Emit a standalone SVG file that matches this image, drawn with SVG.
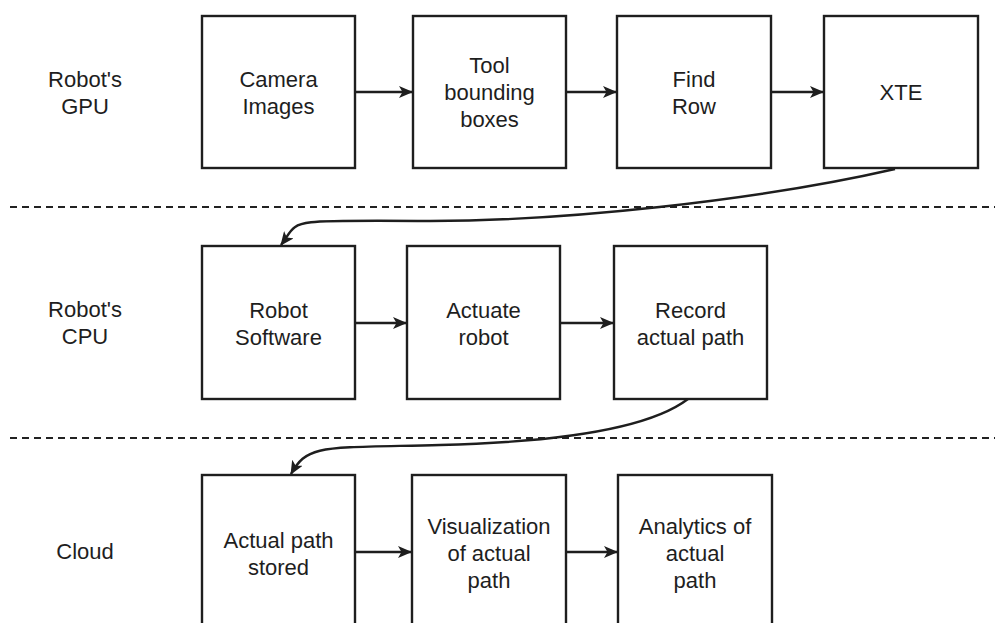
<svg xmlns="http://www.w3.org/2000/svg" width="995" height="623" viewBox="0 0 995 623">
  <style>
    .box { fill: #ffffff; stroke: #1e1e1e; stroke-width: 2.4; }
    .lbl { font-family: "Liberation Sans", Arial, sans-serif; font-size: 22px; fill: #1e1e1e; text-anchor: middle; dominant-baseline: central; }
    .edge { fill: none; stroke: #1e1e1e; stroke-width: 2.4; }
    .lane { stroke: #222222; stroke-width: 2.2; stroke-dasharray: 7 5; }
  </style>
  <defs>
    <marker id="arrow" viewBox="0 0 14 12" refX="13" refY="6" markerWidth="14" markerHeight="12" markerUnits="userSpaceOnUse" orient="auto">
      <path d="M0,0 L14,6 L0,12 L3.5,6 Z" fill="#1e1e1e"/>
    </marker>
  </defs>
  <rect width="995" height="623" fill="#ffffff"/>

  <!-- lane separators -->
  <line class="lane" x1="10" y1="207" x2="995" y2="207"/>
  <line class="lane" x1="10" y1="438" x2="995" y2="438"/>

  <!-- lane titles -->
  <g id="lane-gpu">
    <text class="lbl" x="85" y="79">Robot's</text>
    <text class="lbl" x="85" y="106">GPU</text>
  </g>
  <g id="lane-cpu">
    <text class="lbl" x="85" y="309">Robot's</text>
    <text class="lbl" x="85" y="336">CPU</text>
  </g>
  <g id="lane-cloud">
    <text class="lbl" x="85" y="551">Cloud</text>
  </g>

  <!-- GPU row -->
  <g id="camera-images">
    <rect class="box" x="202" y="16" width="153" height="152"/>
    <text class="lbl" x="278.5" y="79">Camera</text>
    <text class="lbl" x="278.5" y="106">Images</text>
  </g>
  <g id="tool-bounding-boxes">
    <rect class="box" x="413" y="16" width="153" height="152"/>
    <text class="lbl" x="489.5" y="65">Tool</text>
    <text class="lbl" x="489.5" y="92">bounding</text>
    <text class="lbl" x="489.5" y="119">boxes</text>
  </g>
  <g id="find-row">
    <rect class="box" x="617" y="16" width="154" height="152"/>
    <text class="lbl" x="694" y="79">Find</text>
    <text class="lbl" x="694" y="106">Row</text>
  </g>
  <g id="xte">
    <rect class="box" x="824" y="16" width="154" height="152"/>
    <text class="lbl" x="901" y="92">XTE</text>
  </g>

  <!-- CPU row -->
  <g id="robot-software">
    <rect class="box" x="202" y="246" width="153" height="153"/>
    <text class="lbl" x="278.5" y="310">Robot</text>
    <text class="lbl" x="278.5" y="337">Software</text>
  </g>
  <g id="actuate-robot">
    <rect class="box" x="407" y="246" width="153" height="153"/>
    <text class="lbl" x="483.5" y="310">Actuate</text>
    <text class="lbl" x="483.5" y="337">robot</text>
  </g>
  <g id="record-actual-path">
    <rect class="box" x="614" y="246" width="153" height="153"/>
    <text class="lbl" x="690.5" y="310">Record</text>
    <text class="lbl" x="690.5" y="337">actual path</text>
  </g>

  <!-- Cloud row -->
  <g id="actual-path-stored">
    <rect class="box" x="202" y="475" width="153" height="170"/>
    <text class="lbl" x="278.5" y="540">Actual path</text>
    <text class="lbl" x="278.5" y="567">stored</text>
  </g>
  <g id="visualization">
    <rect class="box" x="412" y="475" width="154" height="170"/>
    <text class="lbl" x="489" y="526">Visualization</text>
    <text class="lbl" x="489" y="553">of actual</text>
    <text class="lbl" x="489" y="580">path</text>
  </g>
  <g id="analytics">
    <rect class="box" x="618" y="475" width="154" height="170"/>
    <text class="lbl" x="695" y="526">Analytics of</text>
    <text class="lbl" x="695" y="553">actual</text>
    <text class="lbl" x="695" y="580">path</text>
  </g>

  <!-- connectors -->
  <g id="connectors">
    <line class="edge" x1="355" y1="92" x2="412" y2="92" marker-end="url(#arrow)"/>
    <line class="edge" x1="566" y1="92" x2="616" y2="92" marker-end="url(#arrow)"/>
    <line class="edge" x1="771" y1="92" x2="823" y2="92" marker-end="url(#arrow)"/>
    <path class="edge" d="M 895 169 C 760 200, 560 222, 420 221 S 300 220, 281 245" marker-end="url(#arrow)"/>
    <line class="edge" x1="355" y1="323" x2="406" y2="323" marker-end="url(#arrow)"/>
    <line class="edge" x1="560" y1="323" x2="613" y2="323" marker-end="url(#arrow)"/>
    <path class="edge" d="M 688 399 C 650 428, 560 442, 440 445 S 308 444, 291 474" marker-end="url(#arrow)"/>
    <line class="edge" x1="355" y1="552" x2="411" y2="552" marker-end="url(#arrow)"/>
    <line class="edge" x1="566" y1="552" x2="617" y2="552" marker-end="url(#arrow)"/>
  </g>
</svg>
